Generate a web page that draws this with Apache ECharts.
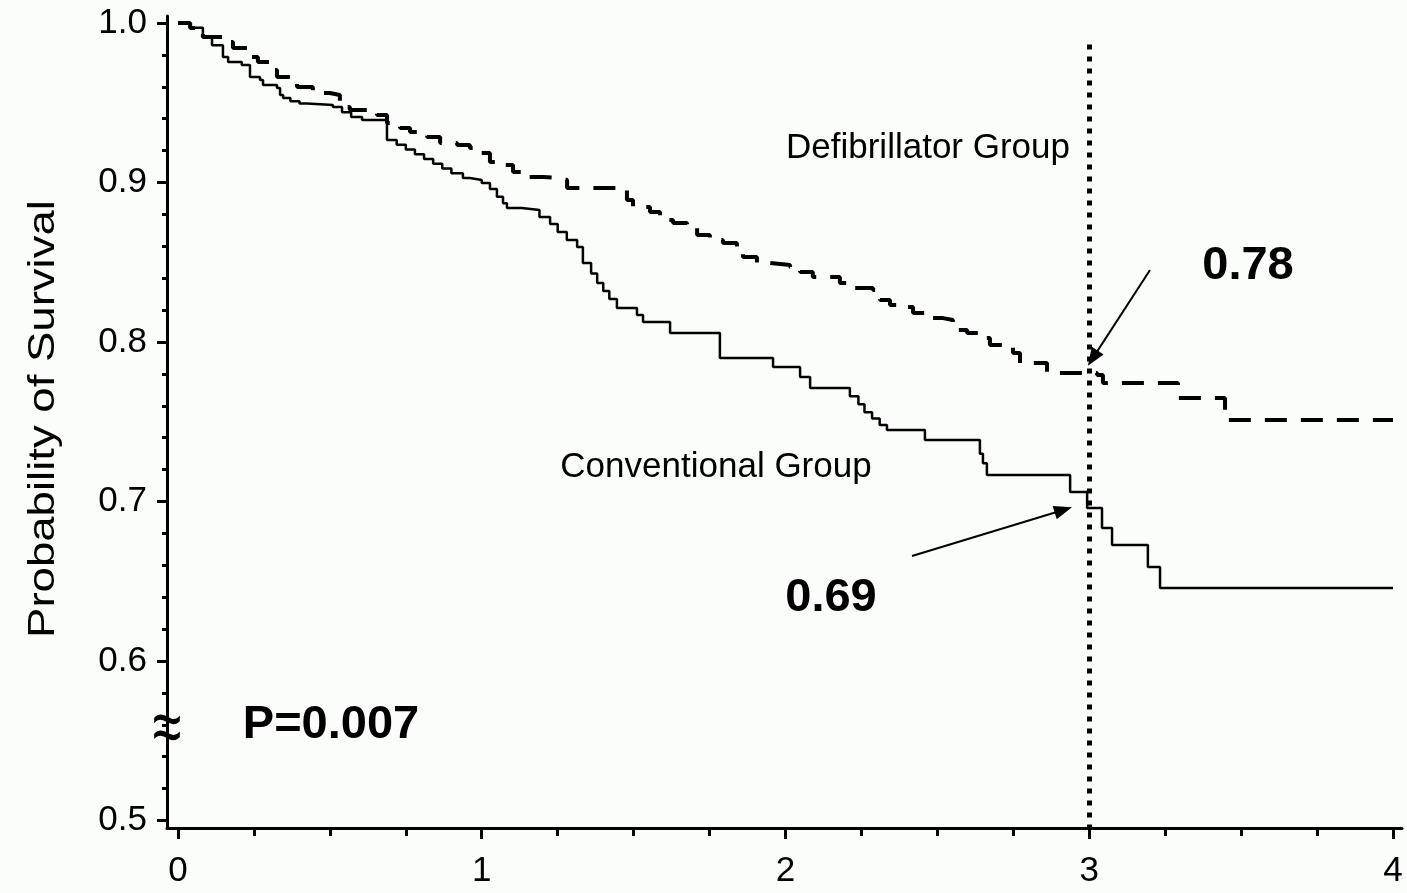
<!DOCTYPE html>
<html><head><meta charset="utf-8">
<script src="https://cdn.jsdelivr.net/npm/echarts@6/dist/echarts.min.js"></script>
<style>html,body{margin:0;padding:0;background:#fbfdfb}#c{width:1407px;height:893px}</style>
</head><body><div id="c"></div>
<script>
// Kaplan-Meier step data (time in years, survival after each drop)
const convTimes = [0,0.04,0.082,0.112,0.148,0.165,0.21,0.237,0.27,0.28,0.326,0.336,0.346,0.37,0.40,0.425,0.51,0.54,0.57,0.606,0.688,0.72,0.75,0.78,0.81,0.84,0.87,0.90,0.938,0.961,1.0,1.027,1.05,1.07,1.083,1.132,1.19,1.225,1.25,1.28,1.314,1.333,1.36,1.38,1.40,1.42,1.445,1.511,1.531,1.62,1.784,1.959,2.048,2.081,2.212,2.24,2.26,2.285,2.31,2.334,2.459,2.64,2.65,2.663,2.937,2.993,3.042,3.075,3.193,3.233,4.0];
const convSurv  = [1.0,0.997,0.991,0.986,0.9787,0.9755,0.9737,0.9661,0.9643,0.9611,0.9592,0.9549,0.953,0.951,0.9495,0.9486,0.9473,0.944,0.941,0.9392,0.9266,0.9237,0.9207,0.9177,0.9148,0.9118,0.9088,0.9058,0.9028,0.9016,0.8997,0.896,0.891,0.887,0.884,0.8828,0.8784,0.874,0.869,0.864,0.8596,0.8495,0.843,0.837,0.832,0.827,0.8213,0.817,0.8125,0.8056,0.79,0.7843,0.778,0.7712,0.766,0.761,0.756,0.752,0.748,0.7448,0.7386,0.73,0.724,0.7166,0.706,0.696,0.6834,0.6727,0.6589,0.6458,0.6458];
const defTimes = [0,0.04,0.082,0.161,0.181,0.237,0.263,0.303,0.326,0.369,0.392,0.444,0.5,0.533,0.566,0.622,0.655,0.688,0.731,0.764,0.82,0.863,0.919,0.961,0.994,1.027,1.06,1.103,1.149,1.202,1.258,1.281,1.445,1.478,1.498,1.554,1.587,1.63,1.676,1.709,1.751,1.794,1.84,1.86,1.906,1.949,2.015,2.048,2.09,2.179,2.222,2.288,2.311,2.344,2.4,2.42,2.466,2.519,2.551,2.598,2.64,2.673,2.749,2.772,2.861,3.026,3.045,3.292,3.447,4.0];
const defSurv  = [1.0,0.9969,0.9912,0.9881,0.9843,0.9787,0.9755,0.9705,0.9661,0.963,0.9599,0.9561,0.9549,0.9473,0.9455,0.9442,0.9423,0.9373,0.9342,0.9317,0.9285,0.9248,0.9235,0.9216,0.9185,0.9129,0.911,0.9066,0.9034,0.9028,0.9016,0.8966,0.8953,0.889,0.8846,0.8815,0.8765,0.8746,0.8715,0.8671,0.864,0.8621,0.8596,0.8533,0.8495,0.8483,0.847,0.8439,0.8408,0.837,0.8339,0.8326,0.8263,0.8232,0.8219,0.8182,0.815,0.8138,0.8075,0.8056,0.8025,0.7981,0.7931,0.7868,0.7806,0.7793,0.7743,0.7649,0.7511,0.7511];
const xMajorTicks = [0,1,2,3,4];
const xMinorTicks = [0.25,0.5,0.75,1.25,1.5,1.75,2.25,2.5,2.75,3.25,3.5,3.75];
const yMajorTicks = [0.5,0.6,0.7,0.8,0.9,1.0];
const yMinorTicks = [0.52,0.54,0.56,0.58,0.62,0.64,0.66,0.68,0.72,0.74,0.76,0.78,0.82,0.84,0.86,0.88,0.92,0.94,0.96,0.98];
const markTime = 3;

const XMIN=-0.0362, XMAX=4.0296, YMIN=0.4953, YMAX=1.0044;
const FONT='"Liberation Sans", Arial, Helvetica, sans-serif';
const chart = echarts.init(document.getElementById('c'));
const baseX = {type:'value',min:XMIN,max:XMAX,position:'bottom',splitLine:{show:false}};
const baseY = {type:'value',min:YMIN,max:YMAX,position:'left',splitLine:{show:false}};
const C = {align:'center',verticalAlign:'middle',textAlign:'center',textVerticalAlign:'middle',fill:'#000'};
chart.setOption({
  backgroundColor:'#fbfdfb',
  animation:false,
  grid:{left:167,right:5,top:16,bottom:65,containLabel:false},
  xAxis:[
    Object.assign({},baseX,{
      axisLine:{show:true,onZero:false,lineStyle:{color:'#000',width:3}},
      axisTick:{show:true,customValues:xMajorTicks,length:11,lineStyle:{color:'#000',width:3}},
      axisLabel:{show:true,customValues:xMajorTicks,margin:26,color:'#000',fontSize:35,fontFamily:FONT}
    }),
    Object.assign({},baseX,{
      axisLine:{show:false,onZero:false},
      axisTick:{show:true,customValues:xMinorTicks,length:8,lineStyle:{color:'#000',width:3}},
      axisLabel:{show:false}
    })
  ],
  yAxis:[
    Object.assign({},baseY,{
      axisLine:{show:true,onZero:false,lineStyle:{color:'#000',width:3}},
      axisTick:{show:true,customValues:yMajorTicks,length:10,lineStyle:{color:'#000',width:3}},
      axisLabel:{show:true,customValues:yMajorTicks,margin:20,color:'#000',fontSize:35,fontFamily:FONT,
        formatter:v=>v.toFixed(1)}
    }),
    Object.assign({},baseY,{
      axisLine:{show:false,onZero:false},
      axisTick:{show:true,customValues:yMinorTicks,length:5,lineStyle:{color:'#000',width:3}},
      axisLabel:{show:false}
    })
  ],
  series:[
    {
      name:'Conventional Group',type:'line',step:'end',showSymbol:false,
      xAxisIndex:0,yAxisIndex:0,
      data:convTimes.map((t,i)=>[t,convSurv[i]]),
      lineStyle:{color:'#000',width:2.5},
      markLine:{
        silent:true,symbol:['none','triangle'],symbolSize:[14,18],
        label:{show:false},
        lineStyle:{color:'#000',width:2,type:'solid'},
        data:[
          [{coord:[3.2,0.8451]},{coord:[3.0117,0.7899]}],
          [{coord:[2.4165,0.6658]},{coord:[2.9146,0.6947]}]
        ]
      }
    },
    {
      name:'Defibrillator Group',type:'line',step:'end',showSymbol:false,
      xAxisIndex:0,yAxisIndex:0,
      data:defTimes.map((t,i)=>[t,defSurv[i]]),
      lineStyle:{color:'#000',width:4,type:[22,14],cap:'butt'},
      markLine:{
        silent:true,symbol:['none','none'],
        label:{show:false},
        lineStyle:{color:'#000',width:5,type:[5,7],cap:'butt'},
        data:[[{coord:[markTime,0.9865]},{coord:[markTime,YMIN]}]]
      }
    }
  ],
  graphic:[
    {type:'text',z:101,x:167,y:731,scaleY:1.5,style:Object.assign({text:'≈',font:'52px '+FONT},C)},
    {type:'text',z:101,x:44,y:419,rotation:Math.PI/2,scaleX:1.265,
      style:Object.assign({text:'Probability of Survival',font:'36px '+FONT},C)},
    {type:'text',z:101,x:928,y:148,style:Object.assign({text:'Defibrillator Group',font:'35px '+FONT},C)},
    {type:'text',z:101,x:716,y:467,style:Object.assign({text:'Conventional Group',font:'35px '+FONT},C)},
    {type:'text',z:101,x:1248,y:266,style:Object.assign({text:'0.78',font:'bold 47px '+FONT},C)},
    {type:'text',z:101,x:831,y:598,style:Object.assign({text:'0.69',font:'bold 47px '+FONT},C)},
    {type:'text',z:101,x:331,y:725,style:Object.assign({text:'P=0.007',font:'bold 47px '+FONT},C)}
  ]
});
</script></body></html>
